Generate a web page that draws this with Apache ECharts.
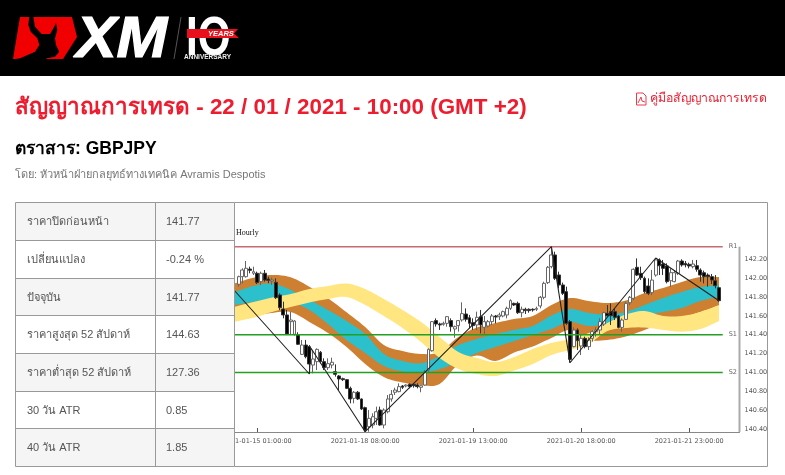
<!DOCTYPE html>
<html><head><meta charset="utf-8">
<style>html,body{margin:0;padding:0;background:#fff}#c{width:785px;height:475px}</style>
<script src="https://cdn.jsdelivr.net/npm/echarts@6/dist/echarts.min.js"></script>
</head><body><div id="c"></div>
<script>
const title = 'สัญญาณการเทรด - 22 / 01 / 2021 - 10:00 (GMT +2)';
const guideLink = 'คู่มือสัญญาณการเทรด';
const instrument = 'ตราสาร: GBPJPY';
const byline = 'โดย: หัวหน้าฝ่ายกลยุทธ์ทางเทคนิค Avramis Despotis';
const tableLabels = ['ราคาปิดก่อนหน้า','เปลี่ยนแปลง','ปัจจุบัน','ราคาสูงสุด 52 สัปดาห์','ราคาต่ำสุด 52 สัปดาห์','30 วัน ATR','40 วัน ATR'];
const tableValues = ['141.77','-0.24 %','141.77','144.63','127.36','0.85','1.85'];
const tickBars = [6,35,64,93,122];
const tickLabels = ['2021-01-15 01:00:00','2021-01-18 08:00:00','2021-01-19 13:00:00','2021-01-20 18:00:00','2021-01-21 23:00:00'];
const priceTicks = [140.4,140.6,140.8,141.0,141.2,141.4,141.6,141.8,142.0,142.2];
const R1 = 142.334, S1 = 141.40, S2 = 141.00;
// open, close, low, high per hourly bar
const candles = [
[141.935,142.016,141.91,142.027],[142.016,142.087,141.945,142.105],[142.016,142.105,142.006,142.182],[142.097,142.083,142.052,142.122],[142.052,142.069,142.034,142.122],
[142.052,141.953,141.938,142.069],[141.963,142.052,141.928,142.069],[142.052,141.981,141.963,142.087],[141.991,141.977,141.946,142.016],[141.97,141.981,141.928,142.006],
[141.956,141.793,141.779,141.998],[141.822,141.687,141.663,141.839],[141.673,141.61,141.574,141.751],[141.61,141.408,141.397,141.663],[141.539,141.556,141.398,141.645],
[141.405,141.546,141.39,141.556],[141.398,141.299,141.291,141.426],[141.192,141.291,141.185,141.345],[141.291,141.168,141.15,141.345],[141.274,141.09,140.991,141.291],
[141.079,141.143,140.991,141.238],[141.115,141.245,141.026,141.256],[141.214,141.115,141.097,141.228],[141.115,141.051,141.026,141.15],[141.051,141.094,141.026,141.15],
[141.079,141.108,141.044,141.157],[141.009,140.98,140.956,141.086],[140.963,140.931,140.814,140.973],[140.934,140.924,140.91,140.945],[140.924,140.832,140.825,140.931],
[140.832,140.719,140.673,140.85],[140.726,140.79,140.673,140.804],[140.79,140.719,140.708,140.804],[140.719,140.613,140.602,140.726],[140.627,140.39,140.372,140.638],
[140.425,140.514,140.372,140.602],[140.443,140.531,140.408,140.567],[140.514,140.584,140.443,140.638],[140.602,140.443,140.436,140.638],[140.443,140.602,140.408,140.62],
[140.584,140.719,140.567,140.761],[140.719,140.768,140.691,140.814],[140.79,140.814,140.761,140.839],[140.797,140.85,140.79,140.885],[140.857,140.843,140.825,140.867],
[140.857,140.867,140.843,140.874],[140.874,140.85,140.832,140.885],[140.874,140.86,140.839,140.885],[140.867,140.85,140.832,140.885],[140.843,140.86,140.79,140.867],
[140.867,141.009,140.86,141.026],[141.026,141.246,141.009,141.256],[141.231,141.539,141.221,141.546],[141.55,141.514,141.486,141.574],[141.514,141.504,141.451,141.528],
[141.511,141.521,141.496,141.539],[141.521,141.592,141.486,141.599],[141.55,141.486,141.433,141.574],[141.461,141.486,141.369,141.497],[141.497,141.55,141.433,141.557],
[141.557,141.624,141.539,141.744],[141.62,141.564,141.539,141.68],[141.581,141.521,141.468,141.61],[141.528,141.497,141.451,141.574],[141.504,141.585,141.45,141.645],
[141.592,141.504,141.415,141.663],[141.479,141.539,141.397,141.599],[141.493,141.539,141.479,141.557],[141.539,141.599,141.504,141.62],[141.599,141.588,141.521,141.61],
[141.592,141.61,141.557,141.634],[141.599,141.645,141.585,141.656],[141.61,141.68,141.574,141.698],[141.68,141.762,141.663,141.776],[141.733,141.716,141.705,141.74],
[141.733,141.634,141.62,141.751],[141.634,141.67,141.585,141.698],[141.67,141.656,141.62,141.687],[141.67,141.656,141.634,141.68],[141.67,141.663,141.645,141.68],
[141.67,141.68,141.652,141.698],[141.705,141.797,141.68,141.811],[141.797,141.945,141.776,141.963],[141.953,142.115,141.938,142.129],[142.122,142.246,142.104,142.334],
[142.246,141.998,141.981,142.281],[142.034,141.928,141.892,142.069],[141.928,141.839,141.822,141.953],[141.857,141.521,141.504,141.91],[141.539,141.139,141.104,141.557],
[141.274,141.45,141.267,141.479],[141.45,141.337,141.238,141.468],[141.281,141.362,141.185,141.397],[141.362,141.274,141.256,141.38],[141.274,141.344,141.238,141.373],
[141.362,141.433,141.327,141.45],[141.433,141.45,141.38,141.479],[141.45,141.539,141.397,141.574],[141.514,141.634,141.493,141.645],[141.627,141.602,141.59,141.715],
[141.645,141.602,141.503,141.733],[141.645,141.585,141.556,141.68],[141.599,141.478,141.468,141.61],[141.478,141.556,141.432,141.574],[141.563,141.733,141.556,141.751],
[141.74,141.797,141.715,141.811],[141.786,142.094,141.768,142.104],[142.115,142.033,142.023,142.21],[142.051,142.005,141.98,142.122],[141.998,141.857,141.839,142.016],
[141.917,141.839,141.821,141.998],[141.846,141.98,141.821,142.087],[142.033,142.193,142.016,142.21],[142.193,142.132,142.033,142.21],[142.15,142.104,142.033,142.193],
[142.129,141.963,141.945,142.157],[141.973,142.058,141.91,142.104],[141.963,142.058,141.956,142.086],[142.051,142.182,142.033,142.193],[142.182,142.14,142.122,142.2],
[142.157,142.14,142.115,142.182],[142.147,142.129,142.104,142.164],[142.122,142.15,142.104,142.193],[142.132,142.094,142.069,142.193],[142.086,142.033,141.963,142.104],
[142.058,142.016,141.945,142.08],[142.033,142.016,141.91,142.051],[142.016,141.98,141.938,142.044],[141.973,141.92,141.892,142.033],[141.899,141.761,141.75,141.91]
];
// band edges, read every fifth bar starting at the first slot
const bandBars = [0,5,10,15,20,25,30,35,40,45,50,55,60,65,70,75,80,85,90,95,100,105,110,115,120,125,130];
const orangeTop = [141.946,142.005,142.034,142.009,141.91,141.787,141.638,141.482,141.291,141.228,141.196,141.217,141.376,141.477,141.525,141.567,141.599,141.716,141.79,141.758,141.737,141.763,141.843,141.896,141.96,142.013,142.013];
const tealTop = [141.854,141.917,141.944,141.875,141.769,141.663,141.546,141.408,141.196,141.122,141.098,141.175,141.291,141.355,141.408,141.451,141.493,141.604,141.673,141.631,141.615,141.642,141.716,141.79,141.854,141.907,141.928];
const tealBottom = [141.716,141.748,141.769,141.748,141.663,141.514,141.345,141.207,141.069,141.011,140.995,141.037,141.111,141.207,141.27,141.334,141.398,141.461,141.536,141.493,141.514,141.557,141.61,141.642,141.684,141.758,141.801];
const orangeBottom = [141.578,141.599,141.631,141.642,141.536,141.419,141.27,141.09,140.952,140.894,140.867,140.878,141.09,141.18,141.122,141.212,141.276,141.366,141.451,141.345,141.345,141.382,141.451,141.536,141.578,141.642,141.705];
const yellowTop = [141.698,141.748,141.795,141.832,141.885,141.917,141.944,141.885,141.779,141.663,141.536,141.376,141.217,141.154,141.111,141.164,141.249,141.313,141.355,141.419,141.525,141.615,141.652,141.599,141.599,141.642,141.716];
const yellowBottom = [141.539,141.581,141.642,141.695,141.742,141.779,141.801,141.716,141.599,141.472,141.323,141.154,141.037,140.984,140.963,141.021,141.09,141.186,141.239,141.302,141.44,141.472,141.477,141.451,141.433,141.461,141.546];
const zigzagBars = [0,20,20.4,35,85,90,113,130];
const zigzagPrices = [141.864,140.984,141.26,140.372,142.334,141.103,142.214,141.761];

const slots = 136;
const categories = Array.from({length:slots},(_,i)=>{const k=tickBars.indexOf(i);return k>=0?tickLabels[k]:''+i;});
const candleData = [null].concat(candles).map(d=>d||'-');
const sans = '"Liberation Sans","Noto Sans",sans-serif';
const axisFont = '"DejaVu Sans",sans-serif';

// rounds a pixel polyline between the read edge points (drawing only)
function rounded(p){
  const out=[];
  for(let i=0;i<p.length-1;i++){
    const a=p[Math.max(i-1,0)],b=p[i],c=p[i+1],d=p[Math.min(i+2,p.length-1)];
    for(let k=0;k<6;k++){
      const t=k/6,t2=t*t,t3=t2*t;
      const f=(q)=>0.5*(2*b[q]+(c[q]-a[q])*t+(2*a[q]-5*b[q]+4*c[q]-d[q])*t2+(3*b[q]-a[q]-3*c[q]+d[q])*t3);
      out.push([f(0),f(1)]);
    }
  }
  out.push(p[p.length-1]);
  return out;
}
function band(name,lower,upper,color){
  return {type:'custom',name:name,xAxisIndex:1,yAxisIndex:0,silent:true,z:2,
    data:[[bandBars[0],lower[0]]],encode:{x:0,y:1},
    renderItem:(params,api)=>{
      const up=rounded(bandBars.map((b,i)=>api.coord([b,upper[i]])));
      const lo=rounded(bandBars.map((b,i)=>api.coord([b,lower[i]])));
      return {type:'polygon',silent:true,shape:{points:up.concat(lo.reverse())},style:{fill:color,stroke:null}};
    }};
}
function level(name,v,color,label,w){
  return {type:'line',name:name,xAxisIndex:1,yAxisIndex:0,symbol:'none',silent:true,z:6,
    lineStyle:{color:color,width:w},data:[[-0.5,v],[131,v]],
    endLabel:{show:true,formatter:label,color:'#666',fontSize:6.5,fontFamily:axisFont,distance:6}};
}

// page furniture
const g=[];
const Z=100;
function rect(x,y,w,h,fill){g.push({type:'rect',z:Z,silent:true,shape:{x,y,width:w,height:h},style:{fill}});}
function line(x1,y1,x2,y2,stroke,lw){g.push({type:'line',z:Z+1,silent:true,shape:{x1,y1,x2,y2},style:{stroke,lineWidth:lw||1}});}
function text(x,y,t,font,fill,extra){g.push(Object.assign({type:'text',z:Z+2,silent:true,x,y,style:Object.assign({text:t,font,fill,textAlign:'left',textVerticalAlign:'middle'},(extra&&extra.style)||{})},extra&&extra.el||{}));}
function poly(pts,fill,z){g.push({type:'polygon',z:z||Z+1,silent:true,shape:{points:pts},style:{fill}});}

rect(0,0,785,76,'#000');
poly([[13,59],[20,17],[72,17],[77,37],[63,59]],'#f00000');
poly([[29.3,16.5],[33.3,16.5],[35,26.7],[41.7,34],[50,34],[54.3,26.7],[56,22.7],[57.3,30],[55,38.3],[56,45],[59.3,51.7],[55,56.7],[46.7,58.3],[46.7,59.5],[12.5,59.5],[20,58.3],[35,51.7],[39.3,45],[37.3,38.3],[30.7,31.7],[28.3,25]],'#000');
text(76,41,'XM','italic bold 58px '+sans,'#fff',{style:{stroke:'#fff',lineWidth:1.2},el:{scaleX:1.05}});
line(181,17,174,59,'#555',1);
text(186,40,'IO','bold 55px '+sans,'#fff',{el:{scaleX:0.77}});
poly([[187,29],[238,29],[234,33.5],[239,38],[187,38]],'#e8101c',Z+3);
g.push({type:'text',z:Z+4,silent:true,x:208,y:34,style:{text:'YEARS',font:'italic bold 7.5px '+sans,fill:'#fff',textVerticalAlign:'middle'}});
text(184,57.5,'ANNIVERSARY','bold 6.5px '+sans,'#eee');

text(15,108,title,'bold 22.4px '+sans,'#ed1c2e');
text(650,99,guideLink,'12.3px '+sans,'#ed1c2e');
poly([[636.5,93],[643,93],[646,96],[646,105],[636.5,105]],'none');
g[g.length-1].style={fill:'none',stroke:'#ed3a4a',lineWidth:1};
g.push({type:'polyline',z:Z+1,silent:true,shape:{points:[[638,103],[641,97],[642,101],[645,102]]},style:{fill:'none',stroke:'#ed3a4a',lineWidth:1}});
text(15,149,instrument,'bold 17.5px '+sans,'#000');
text(15,174.5,byline,'11px '+sans,'#777');

const rowY=[202.5,240.5,278.5,315.5,353.5,391.5,428.5,466.5];
const tx=[15.5,155.5,234.5];
tableLabels.forEach((t,i)=>{
  rect(tx[0],rowY[i],tx[2]-tx[0],rowY[i+1]-rowY[i],i%2===0?'#f5f5f5':'#fff');
  const cy=(rowY[i]+rowY[i+1])/2+0.5;
  text(27,cy,t,'11px '+sans,'#555');
  text(166,cy,tableValues[i],'11px '+sans,'#555');
});
rect(0,195,15,280,'#fff');
rowY.forEach(y=>line(tx[0],y,tx[2],y,'#999',1));
tx.forEach(x=>line(x,rowY[0],x,rowY[7],'#999',1));
line(tx[2],202.5,767.5,202.5,'#999',1);
line(767.5,202.5,767.5,466.5,'#999',1);
line(tx[2],466.5,767.5,466.5,'#999',1);
text(236,233,'Hourly','8px "Liberation Serif",serif','#111');

const chart=echarts.init(document.getElementById('c'),null,{renderer:'canvas'});
chart.setOption({
  animation:false,
  backgroundColor:'#fff',
  graphic:{elements:g},
  grid:{left:233,width:506.5,top:203,height:229,containLabel:false},
  xAxis:[
    {type:'category',data:categories,boundaryGap:true,position:'bottom',
     axisLine:{show:true,onZero:false,lineStyle:{color:'#888',width:1}},
     axisTick:{show:true,inside:true,length:4,alignWithLabel:true,lineStyle:{color:'#555'},interval:(i)=>tickBars.includes(i)},
     axisLabel:{show:true,interval:(i)=>tickBars.includes(i),color:'#555',fontSize:6.5,fontFamily:axisFont,margin:6,hideOverlap:false},
     splitLine:{show:false}},
    {type:'value',min:-0.5,max:135.5,show:false,splitLine:{show:false}}
  ],
  yAxis:[{type:'value',position:'right',min:140.369,max:142.797,scale:true,
     axisLine:{show:false},
     axisTick:{show:true,inside:true,length:3,lineStyle:{color:'#666'},customValues:priceTicks.concat([R1])},
     axisLabel:{show:true,color:'#555',fontSize:6.5,fontFamily:axisFont,margin:5,customValues:priceTicks,formatter:v=>v.toFixed(2)},
     splitLine:{show:false}}],
  series:[
    band('orange',orangeBottom,orangeTop,'#cd7f32'),
    band('teal',tealBottom,tealTop,'#2bc0cb'),
    band('yellow',yellowBottom,yellowTop,'#ffe680'),
    level('R1',R1,'#c96b74','R1',1.5),
    level('S1',S1,'#22a022','S1',1.3),
    level('S2',S2,'#22a022','S2',1.3),
    {type:'line',name:'price scale',xAxisIndex:1,yAxisIndex:0,symbol:'none',silent:true,clip:false,z:6,
     lineStyle:{color:'#aaa',width:2},data:[[135.5,R1],[135.5,140.369]]},
    {type:'candlestick',name:'GBPJPY',xAxisIndex:0,yAxisIndex:0,data:candleData,barWidth:3.4,silent:true,z:4,
     itemStyle:{color:'#fff',color0:'#000',borderColor:'#666',borderColor0:'#333',borderWidth:1}},
    {type:'line',name:'ZigZag',xAxisIndex:1,yAxisIndex:0,symbol:'none',silent:true,z:7,lineStyle:{color:'#222',width:1.1},
     data:zigzagBars.map((b,i)=>[b,zigzagPrices[i]])}
  ]
});
</script></body></html>
